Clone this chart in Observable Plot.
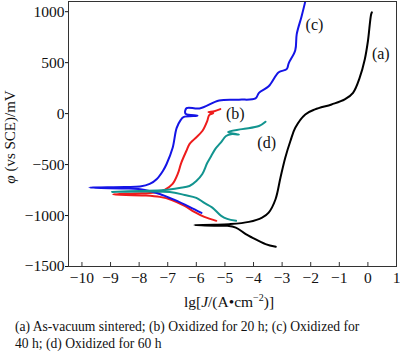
<!DOCTYPE html>
<html><head><meta charset="utf-8">
<script src="https://cdn.jsdelivr.net/npm/d3@7"></script>
<script src="https://cdn.jsdelivr.net/npm/@observablehq/plot@0.6"></script>
<style>
body{margin:0;background:#fff;font-family:"Liberation Serif","Times New Roman",Times,"DejaVu Serif",serif;}
#cap{font-size:13.6px;line-height:17px;padding-left:15px;margin-top:6px;white-space:nowrap;color:#111;}
svg text{font-family:"Liberation Serif","Times New Roman",Times,"DejaVu Serif",serif;}
</style></head><body>
<div id="chart"></div>
<div id="cap">(a) As-vacuum sintered; (b) Oxidized for 20 h; (c) Oxidized for<br>40 h; (d) Oxidized for 60 h</div>
<script>
const xTicks = [-10,-9,-8,-7,-6,-5,-4,-3,-2,-1,0,1];
const yTicks = [-1500,-1000,-500,0,500,1000];

// (a) As-vacuum sintered — black
const aX = [-3.22,-3.58,-4.05,-4.27,-4.62,-4.92,-5.37,-6.07,-5.37,-4.85,-4.16,-3.70,-3.47,-3.23,-3.06,-2.89,-2.71,-2.54,-2.19,-1.85,-1.27,-0.81,-0.52,-0.29,-0.11,0.00,0.11,0.14];
const aY = [-1307,-1280,-1216,-1183,-1118,-1101,-1101,-1094,-1091,-1085,-1062,-1020,-971,-840,-631,-433,-269,-139,-8,41,90,139,204,350,531,710,971,994];

// (b) Oxidized for 20 h — red
const bX = [-5.30,-5.72,-6.07,-6.41,-6.86,-7.28,-7.80,-8.91,-8.15,-7.45,-7.11,-6.83,-6.65,-6.53,-6.35,-6.24,-6.07,-5.79,-5.62,-5.55,-5.41,-5.58,-5.37,-5.16];
const bY = [-1052,-1013,-964,-905,-847,-817,-803,-793,-783,-773,-749,-690,-592,-485,-367,-299,-250,-171,-73,-15,5,15,24,44];

// (c) Oxidized for 40 h — blue
const cX = [-5.82,-6.24,-6.76,-7.28,-7.80,-8.49,-9.74,-8.49,-7.97,-7.63,-7.38,-7.17,-7.04,-6.83,-6.69,-6.55,-6.45,-5.96,-6.38,-6.34,-5.89,-5.20,-4.51,-3.93,-3.81,-3.47,-3.12,-2.84,-2.77,-2.54,-2.49,-2.32,-2.19,-2.15];
const cY = [-974,-915,-847,-788,-749,-734,-726,-720,-715,-690,-641,-563,-494,-338,-142,-64,-34,-20,0,54,51,129,137,149,204,269,406,436,494,622,778,954,1101,1160];

// (d) Oxidized for 60 h — teal
const dX = [-4.61,-4.92,-5.13,-5.44,-5.72,-6.00,-6.41,-6.93,-7.97,-8.95,-7.97,-7.11,-6.59,-6.24,-6.00,-5.79,-5.62,-5.48,-5.34,-5.13,-4.96,-4.75,-4.51,-4.89,-4.40,-3.81,-3.58];
const dY = [-1052,-1033,-1003,-922,-876,-827,-798,-768,-764,-768,-759,-749,-729,-710,-661,-592,-485,-416,-348,-279,-220,-201,-206,-181,-152,-122,-80];

const labelText = ["(a)","(b)","(c)","(d)"];
const labelX = [0.45,-4.64,-1.87,-3.54];
const labelY = [582,-5,866,-289];

const seriesX = [aX,bX,cX,dX];
const seriesY = [aY,bY,cY,dY];
const seriesKey = ["a","b","c","d"];
const rows = [];
seriesKey.forEach((k,i)=>seriesX[i].forEach((x,j)=>rows.push({s:k,x,y:seriesY[i][j]})));
const labels = labelText.map((t,i)=>({t,x:labelX[i],y:labelY[i]}));

const colors = {a:"#000000", b:"#ee1c1c", c:"#1414e6", d:"#12948f"};
const serif = "'Liberation Serif', 'Times New Roman', Times, 'DejaVu Serif', serif";

const plot = Plot.plot({
  width: 400, height: 312,
  marginTop: 1, marginLeft: 68, marginRight: 4, marginBottom: 46,
  style: {fontFamily: serif, fontSize: "15px", background: "#fff", color: "#111"},
  x: {domain: [-10.47, 1]},
  y: {domain: [-1500, 1100]},
  marks: [
    Plot.axisY({ticks: yTicks, tickFormat: d3.format("d"), tickSize: 3, tickPadding: 1, label: null, fontSize: 15.5}),
    Plot.axisX({ticks: xTicks, tickFormat: d3.format("d"), tickSize: 0, tickPadding: 5, label: null, fontSize: 15.5}),
    Plot.ruleX(xTicks, {insetTop: 261, stroke: "#333"}),
    Plot.line(rows, {x: "x", y: "y", z: "s", stroke: d => colors[d.s], strokeWidth: 2, curve: "catmull-rom", clip: true}),
    Plot.text(labels, {x: "x", y: "y", text: "t", fontSize: 16, fill: "#111"}),
    Plot.frame({stroke: "#333"})
  ]
});
document.getElementById("chart").appendChild(plot);

const svg = d3.select(plot);
const xl = svg.append("text").attr("x", 229).attr("y", 307).attr("text-anchor", "middle")
  .attr("font-size", 15.5).attr("fill", "#111").attr("font-family", serif);
xl.append("tspan").text("lg[");
xl.append("tspan").attr("font-style", "italic").text("J");
xl.append("tspan").text("/(A\u2022cm");
xl.append("tspan").attr("font-size", 10).attr("dy", -6).text("\u22122");
xl.append("tspan").attr("dy", 6).text(")]");

const yl = svg.append("text").attr("transform", "translate(15,137) rotate(-90)").attr("text-anchor", "middle")
  .attr("font-size", 15).attr("fill", "#111").attr("font-family", serif);
yl.append("tspan").attr("font-style", "italic").text("\u03c6");
yl.append("tspan").text(" (vs SCE)/mV");
</script>
</body></html>
